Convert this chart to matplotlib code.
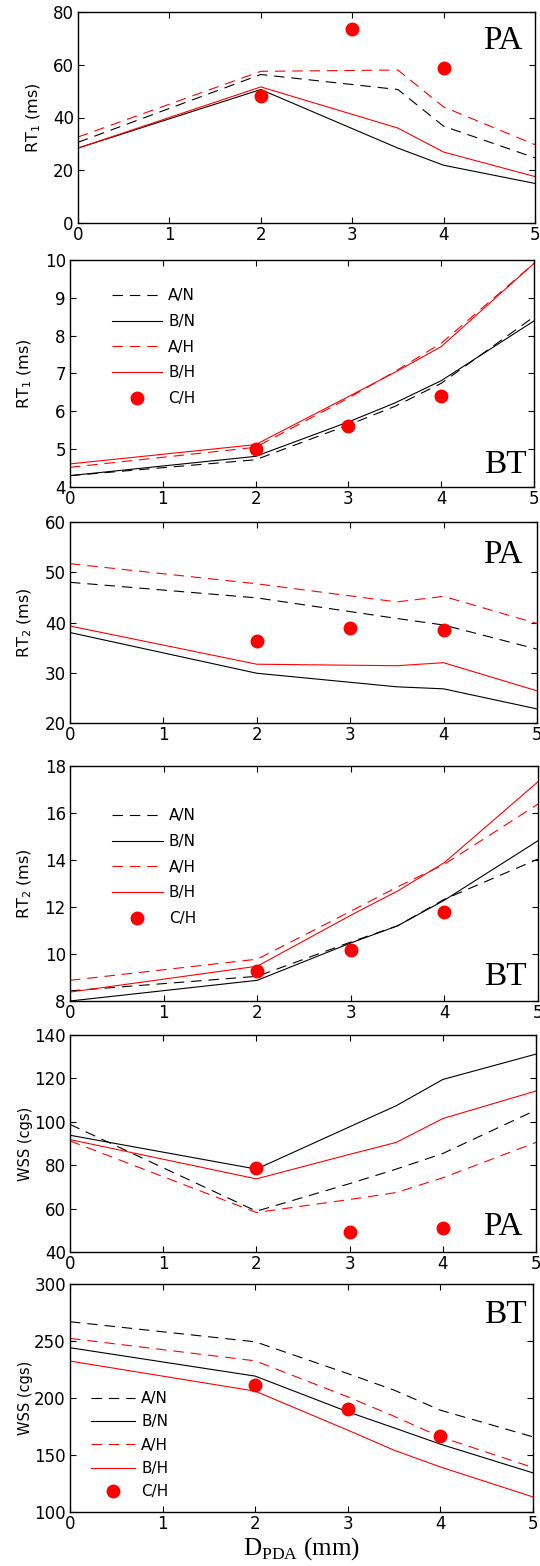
import matplotlib
matplotlib.use("Agg")
import matplotlib.pyplot as plt

plt.rcParams['font.family'] = ['DejaVu Sans']
plt.rcParams['mathtext.fontset'] = 'custom'
plt.rcParams['mathtext.rm'] = 'Liberation Serif'
plt.rcParams['mathtext.sf'] = 'DejaVu Sans'
plt.rcParams['lines.scale_dashes'] = False

# ---- data -------------------------------------------------------------
labels = ['A/N', 'B/N', 'A/H', 'B/H', 'C/H']
x_ch = [2, 3, 4]

# RT1, PA
x_rt1_pa = [0, 2, 3.5, 4, 5]
rt1_pa_an = [30.6, 56.3, 50.6, 36.7, 24.7]
rt1_pa_bn = [28.4, 50.6, 28.4, 21.9, 15.0]
rt1_pa_ah = [32.6, 57.5, 58.0, 44.0, 29.7]
rt1_pa_bh = [28.4, 51.6, 36.0, 26.9, 17.6]
rt1_pa_ch = [48.0, 73.7, 58.7]

# RT1, BT
x_rt1_bt = [0, 2, 3, 3.5, 4, 5]
rt1_bt_an = [4.30, 4.72, 5.64, 6.13, 6.74, 8.50]
rt1_bt_bn = [4.30, 4.81, 5.72, 6.22, 6.81, 8.39]
rt1_bt_ah = [4.52, 5.05, 6.35, 7.05, 7.80, 9.91]
rt1_bt_bh = [4.61, 5.12, 6.39, 7.03, 7.71, 9.91]
rt1_bt_ch = [5.0, 5.6, 6.41]

# RT2, PA
x_rt2_pa = [0, 2, 3.5, 4, 5]
rt2_pa_an = [48.0, 44.9, 40.8, 39.5, 34.7]
rt2_pa_bn = [38.0, 29.9, 27.2, 26.8, 22.8]
rt2_pa_ah = [51.7, 47.7, 44.1, 45.2, 39.8]
rt2_pa_bh = [39.3, 31.7, 31.4, 32.0, 26.4]
rt2_pa_ch = [36.3, 38.9, 38.5]

# RT2, BT
x_rt2_bt = [0, 2, 3, 3.5, 4, 5]
rt2_bt_an = [8.43, 9.05, 10.51, 11.2, 12.33, 14.04]
rt2_bt_bn = [8.00, 8.88, 10.47, 11.2, 12.29, 14.82]
rt2_bt_ah = [8.88, 9.78, 11.82, 12.86, 13.82, 16.38]
rt2_bt_bh = [8.38, 9.48, 11.65, 12.68, 13.89, 17.33]
rt2_bt_ch = [9.29, 10.16, 11.79]

# WSS, PA
x_wss_pa = [0, 2, 3, 3.5, 4, 5]
wss_pa_an = [98.8, 58.8, 71.5, 78.2, 85.4, 105.4]
wss_pa_bn = [93.8, 78.2, 97.7, 107.4, 119.5, 131.2]
wss_pa_ah = [91.2, 58.2, 64.2, 67.4, 74.2, 90.5]
wss_pa_bh = [91.8, 73.7, 85.0, 90.5, 101.5, 114.2]
wss_pa_ch = [78.9, 49.2, 51.2]

# WSS, BT
x_wss_bt = [0, 2, 3, 3.5, 4, 5]
wss_bt_an = [266.9, 249.3, 221.4, 206.9, 189.3, 165.9]
wss_bt_bn = [244.1, 219.2, 187.9, 173.8, 159.5, 134.3]
wss_bt_ah = [252.3, 232.6, 201.0, 184.0, 165.9, 139.0]
wss_bt_bh = [232.4, 206.0, 171.8, 154.2, 139.5, 113.2]
wss_bt_ch = [211.0, 190.2, 167.1]

# ---- layout -------------------------------------------------------------
W, H = 540, 1566
fig = plt.figure(figsize=(W / 100, H / 100), dpi=100)

DASH = (0, (7.5, 5))
LW = 0.8


def make_axes(box):
    l, t, r, b = box
    return fig.add_axes([l / W, 1 - b / H, (r - l) / W, (b - t) / H])


def draw_panel(ax, x, an, bn, ah, bh, ch, ylim, ystep, ylabel, ylabel_x,
               ylabel_size, tag, tag_pos, legend_anchor=None,
               legend_loc='upper left', hlen=3.3, lsp=0.5):
    ax.plot(x, an, color='black', lw=LW, ls=DASH, label=labels[0])
    ax.plot(x, bn, color='black', lw=LW, ls='-', label=labels[1])
    ax.plot(x, ah, color='red', lw=LW, ls=DASH, label=labels[2])
    ax.plot(x, bh, color='red', lw=LW, ls='-', label=labels[3])
    ax.plot(x_ch, ch, ls='none', marker='o', ms=9, color='red',
            markeredgecolor='red', label=labels[4])
    ax.set_xlim(0, 5)
    ax.set_ylim(*ylim)
    ax.set_xticks(range(0, 6))
    yt = []
    v = ylim[0]
    while v <= ylim[1] + 1e-9:
        yt.append(v)
        v += ystep
    ax.set_yticks(yt)
    ax.tick_params(direction='in', top=True, right=True, length=4,
                   width=0.8, labelsize=12, pad=3)
    ax.tick_params(axis='x', pad=2)
    for s in ax.spines.values():
        s.set_linewidth(1.0)
    ax.set_ylabel(ylabel, fontsize=ylabel_size)
    ax.yaxis.set_label_coords(ylabel_x, 0.5)
    ax.text(tag_pos[0], tag_pos[1], tag, transform=ax.transAxes,
            fontsize=24, family='Liberation Serif', ha='right', va='baseline')
    if legend_anchor is not None:
        ax.legend(loc=legend_loc, bbox_to_anchor=legend_anchor, frameon=False,
                  fontsize=11, handlelength=hlen, handletextpad=0.4,
                  labelspacing=lsp, borderpad=0, borderaxespad=0)


boxes = [
    (78, 12, 535, 223),
    (70, 260, 534, 487),
    (70, 522, 537, 723),
    (70, 766, 538, 1001),
    (70, 1035, 536, 1252),
    (70, 1284, 533, 1512),
]
axs = [make_axes(b) for b in boxes]

draw_panel(axs[0], x_rt1_pa, rt1_pa_an, rt1_pa_bn, rt1_pa_ah, rt1_pa_bh,
           rt1_pa_ch, (0, 80), 20, r'RT$_\mathsf{1}$ (ms)', -0.077, 11.5,
           'PA', (0.972, 0.825))
draw_panel(axs[1], x_rt1_bt, rt1_bt_an, rt1_bt_bn, rt1_bt_ah, rt1_bt_bh,
           rt1_bt_ch, (4, 10), 1, r'RT$_\mathsf{1}$ (ms)', -0.077, 11.5,
           'BT', (0.985, 0.06), legend_anchor=(0.09, 0.875), lsp=0.7)
draw_panel(axs[2], x_rt2_pa, rt2_pa_an, rt2_pa_bn, rt2_pa_ah, rt2_pa_bh,
           rt2_pa_ch, (20, 60), 10, r'RT$_\mathsf{2}$ (ms)', -0.077, 11.5,
           'PA', (0.97, 0.795))
draw_panel(axs[3], x_rt2_bt, rt2_bt_an, rt2_bt_bn, rt2_bt_ah, rt2_bt_bh,
           rt2_bt_ch, (8, 18), 2, r'RT$_\mathsf{2}$ (ms)', -0.077, 11.5,
           'BT', (0.976, 0.068), legend_anchor=(0.09, 0.82), lsp=0.7)
draw_panel(axs[4], x_wss_pa, wss_pa_an, wss_pa_bn, wss_pa_ah, wss_pa_bh,
           wss_pa_ch, (40, 140), 20, 'WSS (cgs)', -0.079, 10.5,
           'PA', (0.972, 0.078))
draw_panel(axs[5], x_wss_bt, wss_bt_an, wss_bt_bn, wss_bt_ah, wss_bt_bh,
           wss_bt_ch, (100, 300), 50, 'WSS (cgs)', -0.079, 10.5,
           'BT', (0.987, 0.828),
           legend_anchor=(0.045, 0.055), legend_loc='lower left', hlen=2.9,
           lsp=0.55)

axs[5].set_xlabel(r'$\mathrm{D}_{\mathrm{PDA}}$ (mm)', fontsize=18,
                  family='Liberation Serif', labelpad=2)

fig.savefig('out.png', dpi=100)
